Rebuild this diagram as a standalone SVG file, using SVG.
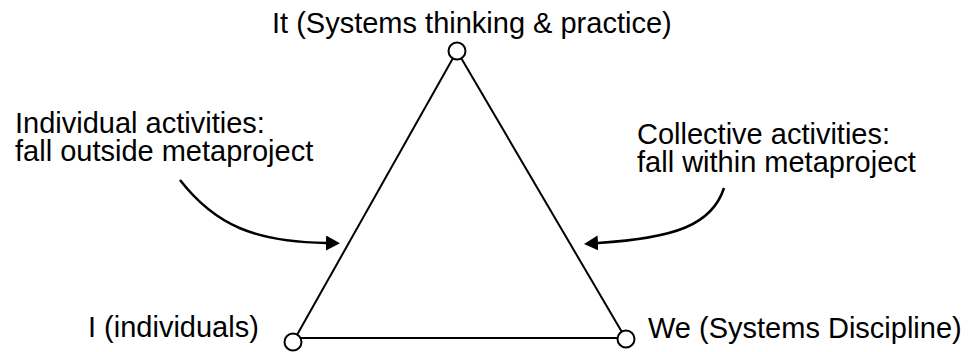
<svg xmlns="http://www.w3.org/2000/svg" width="970" height="352" viewBox="0 0 970 352">
  <style>
    .lbl { font-family: "Liberation Sans", Arial, sans-serif; font-size: 29px; fill: #000; }
    .edge { stroke: #000; stroke-width: 2; fill: none; }
    .arc { stroke: #000; stroke-width: 2.5; fill: none; }
    .vertex { fill: #fff; stroke: #000; stroke-width: 2; }
  </style>
  <defs>
    <marker id="ah" markerUnits="userSpaceOnUse" markerWidth="16" markerHeight="16" refX="0" refY="7.5" orient="auto">
      <path d="M0,0 L14,7.5 L0,15 z" fill="#000"/>
    </marker>
  </defs>
  <rect width="970" height="352" fill="#fff"/>
  <g id="connectors">
    <line class="edge" x1="457" y1="51" x2="293" y2="342"/>
    <line class="edge" x1="457" y1="51" x2="626" y2="339"/>
    <line class="edge" x1="300" y1="338" x2="618" y2="338"/>
    <path class="arc" d="M180,180 C215,225 255,242 326,243" marker-end="url(#ah)"/>
    <path class="arc" d="M724,188 C712,225 675,238 598,243" marker-end="url(#ah)"/>
  </g>
  <g id="node-it">
    <circle class="vertex" cx="457" cy="51" r="8.5"/>
    <text class="lbl" x="272" y="33">It (Systems thinking &amp; practice)</text>
  </g>
  <g id="node-i">
    <circle class="vertex" cx="293" cy="342" r="8.5"/>
    <text class="lbl" x="88" y="337">I (individuals)</text>
  </g>
  <g id="node-we">
    <circle class="vertex" cx="626" cy="339" r="8.5"/>
    <text class="lbl" x="648" y="338">We (Systems Discipline)</text>
  </g>
  <g id="note-individual">
    <text class="lbl" x="15" y="133">Individual activities:</text>
    <text class="lbl" x="15" y="161">fall outside metaproject</text>
  </g>
  <g id="note-collective">
    <text class="lbl" x="637" y="144">Collective activities:</text>
    <text class="lbl" x="637" y="172">fall within metaproject</text>
  </g>
</svg>
